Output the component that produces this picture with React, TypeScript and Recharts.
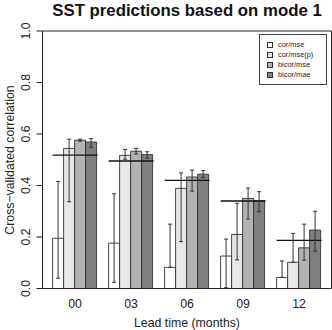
import React from "react";
import { Bar, ComposedChart, ErrorBar, Legend, XAxis, YAxis } from "recharts";

const FONT = '"Liberation Sans", Arial, sans-serif';
const INK = "#222";

// lead times and cross-validated correlations (bar value, lower / upper end of whisker)
const leadTimes = ["00", "03", "06", "09", "12"];

const corMse = [0.195, 0.176, 0.082, 0.126, 0.043];
const corMseLo = [0.04, 0.024, 0.082, 0.003, 0.043];
const corMseHi = [0.416, 0.368, 0.25, 0.192, 0.107];

const corMseP = [0.544, 0.517, 0.389, 0.21, 0.102];
const corMsePLo = [0.337, 0.502, 0.182, 0.111, 0.102];
const corMsePHi = [0.58, 0.54, 0.449, 0.331, 0.214];

const bicorMse = [0.576, 0.533, 0.433, 0.35, 0.158];
const bicorMseLo = [0.572, 0.522, 0.378, 0.27, 0.11];
const bicorMseHi = [0.58, 0.544, 0.46, 0.39, 0.25];

const bicorMae = [0.569, 0.52, 0.444, 0.341, 0.227];
const bicorMaeLo = [0.548, 0.506, 0.431, 0.298, 0.145];
const bicorMaeHi = [0.582, 0.531, 0.458, 0.376, 0.3];

// horizontal reference level drawn across each group
const reference = [0.518, 0.495, 0.42, 0.34, 0.187];

const yTicks = [0, 0.2, 0.4, 0.6, 0.8, 1.0];

const SERIES = [
  { key: "corMse", name: "cor/mse", fill: "#ffffff", v: corMse, lo: corMseLo, hi: corMseHi },
  { key: "corMseP", name: "cor/mse(p)", fill: "#e6e6e6", v: corMseP, lo: corMsePLo, hi: corMsePHi },
  { key: "bicorMse", name: "bicor/mse", fill: "#b3b3b3", v: bicorMse, lo: bicorMseLo, hi: bicorMseHi },
  { key: "bicorMae", name: "bicor/mae", fill: "#808080", v: bicorMae, lo: bicorMaeLo, hi: bicorMaeHi },
];

const data = leadTimes.map((lead, i) => {
  const row: Record<string, any> = { lead, reference: reference[i] };
  for (const s of SERIES) {
    row[s.key] = s.v[i];
    row[`${s.key}Err`] = [s.v[i] - s.lo[i], s.hi[i] - s.v[i]];
  }
  return row;
});

function YTick(props: any) {
  const { x, y, payload } = props;
  const cx = x - 9;
  return (
    <text
      x={cx}
      y={y}
      dy="0.35em"
      textAnchor="middle"
      transform={`rotate(-90, ${cx}, ${y})`}
      fill={INK}
      fontSize={12.3}
      fontFamily={FONT}
    >
      {Number(payload.value).toFixed(1)}
    </text>
  );
}

function XTick(props: any) {
  const { x, y, payload } = props;
  return (
    <text x={x} y={y + 11} textAnchor="middle" fill={INK} fontSize={12.3} fontFamily={FONT}>
      {payload.value}
    </text>
  );
}

// flat line over the whole group width at the reference level
function LevelLine(props: any) {
  const { x, y, width } = props;
  return <line x1={x} x2={x + width} y1={y} y2={y} stroke="#111" strokeWidth={1.4} />;
}

function LegendBox() {
  return (
    <div
      style={{
        border: "1px solid #444",
        background: "#fff",
        padding: "5px 0 4px 6px",
        fontFamily: FONT,
        fontSize: 7.4,
        color: INK,
        lineHeight: "10px",
        boxSizing: "border-box",
        width: 68,
      }}
    >
      {SERIES.map((s) => (
        <div key={s.key} style={{ display: "flex", alignItems: "center", height: 10 }}>
          <span
            style={{
              display: "inline-block",
              width: 4,
              height: 4,
              border: "0.8px solid #333",
              background: s.fill,
              marginLeft: 1,
              marginRight: 5,
            }}
          />
          {s.name}
        </div>
      ))}
    </div>
  );
}

export default function App() {
  return (
    <div style={{ position: "absolute", left: 0, top: 0, width: 332, height: 330, background: "#fff" }}>
      <ComposedChart
        width={332}
        height={330}
        data={data}
        margin={{ top: 30, right: 0, bottom: 11.5, left: 0 }}
        barGap={0}
        barCategoryGap="10%"
      >
        <XAxis
          dataKey="lead"
          height={30}
          padding={{ left: 4.5, right: 4.5 }}
          stroke={INK}
          tickLine={false}
          tick={<XTick />}
        />
        <XAxis xAxisId="ref" dataKey="lead" hide height={0} padding={{ left: 4.5, right: 4.5 }} />
        {/* top and right axes only close the frame around the plot */}
        <XAxis xAxisId="top" dataKey="lead" orientation="top" height={1} tick={false} tickLine={false} stroke={INK} />
        <YAxis
          width={42.5}
          domain={[0, 1]}
          ticks={yTicks}
          allowDataOverflow
          tickSize={6}
          tickMargin={2}
          stroke={INK}
          tick={<YTick />}
        />
        <YAxis
          yAxisId="right"
          orientation="right"
          width={0.5}
          domain={[0, 1]}
          tick={false}
          tickLine={false}
          stroke={INK}
        />
        <Legend
          layout="vertical"
          align="center"
          verticalAlign="middle"
          content={<LegendBox />}
          wrapperStyle={{ position: "absolute", left: 259, top: 34, width: 68, height: "auto" }}
        />
        {SERIES.map((s) => (
          <Bar key={s.key} dataKey={s.key} name={s.name} fill={s.fill} stroke="#333" strokeWidth={0.9} isAnimationActive={false}>
            <ErrorBar dataKey={`${s.key}Err`} direction="y" width={2} stroke="#333" strokeWidth={1} />
          </Bar>
        ))}
        <Bar
          xAxisId="ref"
          dataKey="reference"
          legendType="none"
          shape={<LevelLine />}
          isAnimationActive={false}
        />
      </ComposedChart>
      <svg
        width={332}
        height={330}
        style={{ position: "absolute", left: 0, top: 0, pointerEvents: "none" }}
        fontFamily={FONT}
      >
        <text x={187} y={16} textAnchor="middle" fontSize={16.8} fontWeight="bold" fill="#111">
          SST predictions based on mode 1
        </text>
        <text x={187} y={327} textAnchor="middle" fontSize={12.3} fill={INK}>
          Lead time (months)
        </text>
        <text
          x={9.5}
          y={160}
          dy="0.35em"
          textAnchor="middle"
          transform="rotate(-90, 9.5, 160)"
          fontSize={12.3}
          fill={INK}
        >
          Cross−validated correlation
        </text>
      </svg>
    </div>
  );
}
